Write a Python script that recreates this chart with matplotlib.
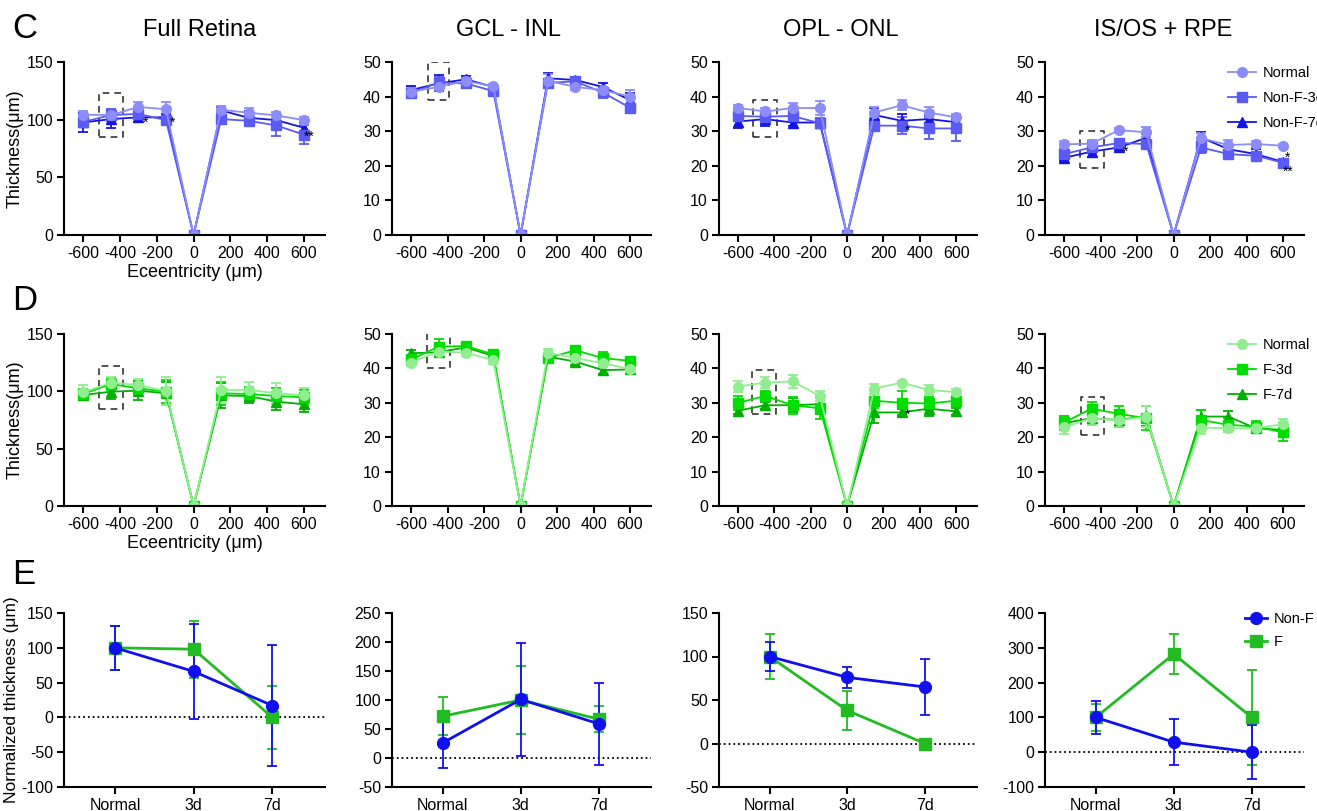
import matplotlib
matplotlib.use('Agg')
import matplotlib.pyplot as plt
import numpy as np

plt.rcParams['font.family'] = ['Liberation Sans', 'DejaVu Sans']
plt.rcParams['axes.unicode_minus'] = False

# eccentricity positions (um)
ecc = [-600, -450, -300, -150, 0, 150, 300, 450, 600]
titles = ['Full Retina', 'GCL - INL', 'OPL - ONL', 'IS/OS + RPE']

# row C : Non-F groups  (Normal, Non-F-3d, Non-F-7d)
c_normal = [[104.3, 104, 111, 109, 0, 108.6, 106, 103.7, 99.6],
            [41.4, 42.8, 44.5, 43, 0, 44.6, 42.8, 41.9, 40],
            [36.7, 35.7, 36.7, 36.7, 0, 35.4, 37.5, 35.4, 34],
            [26.2, 26.4, 30.3, 29.7, 0, 28, 26, 26.3, 25.8]]
c_normal_err = [[3, 3, 4, 6, 0, 3, 4, 3, 3],
                [1, 1, 1, 0.5, 0, 2, 1, 1, 2],
                [1, 1, 1.5, 2, 0, 1.5, 1.5, 1.5, 1],
                [1, 1, 0.5, 1.5, 0, 1.5, 1.5, 1, 0.5]]
c_3d = [[98, 104, 105, 99.6, 0, 100.5, 99, 95, 87],
        [41, 44.1, 43.8, 41.6, 0, 44, 44.4, 41.2, 36.8],
        [34.4, 34.2, 34.4, 32.3, 0, 31.6, 31.6, 30.8, 30.8],
        [23.4, 25.3, 26.6, 26.3, 0, 25.3, 23.4, 22.9, 20.9]]
c_3d_err = [[4, 5, 3, 3, 0, 3, 4, 9, 8],
            [1, 1.5, 1, 0.5, 0, 1, 1, 1.5, 1],
            [1.5, 1.5, 1.5, 1.5, 0, 1, 2.5, 3, 3.5],
            [1.5, 1.5, 1, 1, 0, 1.5, 1, 1, 0.8]]
c_7d = [[97.6, 100.5, 102, 102, 0, 108, 101.6, 99.6, 93],
        [41.9, 43.8, 45, 42.8, 0, 45.3, 44.8, 42.8, 39],
        [32.8, 33.5, 32.5, 32.5, 0, 34.7, 33, 33.5, 32.6],
        [22.3, 24.1, 25.3, 28.1, 0, 28.2, 24.8, 23.4, 21.1]]
c_7d_err = [[8, 8, 4, 3, 0, 3, 6, 4, 4],
            [1.3, 2.3, 1, 0.5, 0, 1.5, 1, 1, 2],
            [2, 2, 1, 1, 0, 2, 2, 1, 1],
            [0.8, 1.5, 0.8, 1, 0, 1.5, 1, 1.5, 0.8]]

# row D : F groups (Normal, F-3d, F-7d)
d_normal = [[99.1, 107.6, 105.5, 100.3, 0, 101.2, 101.2, 98.3, 96.5],
            [41.7, 44.9, 44.6, 42.4, 0, 44.6, 43, 41.5, 39.8],
            [34.7, 35.9, 36.2, 32, 0, 34.1, 35.9, 33.7, 33.1],
            [22.9, 25.5, 24.9, 26, 0, 22.8, 22.6, 22.6, 23.8]]
d_normal_err = [[6, 5, 5, 12, 0, 11, 7, 9, 6],
                [1, 1, 1, 1, 0, 1, 1, 1, 1],
                [1.5, 1.5, 2, 1.5, 0, 1.5, 0.5, 1.5, 1],
                [2, 2, 2, 3, 0, 2, 1, 1.5, 1.5]]
d_3d = [[97.7, 106.4, 102.6, 99.7, 0, 98.3, 97.7, 95.9, 94.8],
        [42.6, 46.3, 46.5, 44.1, 0, 43, 45.3, 43, 42.2],
        [30, 32, 29.3, 28.4, 0, 30.6, 30, 29.8, 30.6],
        [24.3, 28.3, 26.8, 25.5, 0, 25, 23.6, 23.1, 21.4]]
d_3d_err = [[4, 5, 5, 10, 0, 10, 6, 7, 6],
            [1, 2.3, 1, 1.3, 0, 1, 1, 1.7, 1],
            [2, 1.5, 2.5, 3, 0, 2, 3.5, 2, 1.5],
            [2, 2, 2.2, 3.5, 0, 3, 2, 1.5, 2.5]]
d_7d = [[96.8, 99.7, 100.6, 98.3, 0, 96.5, 95.9, 91, 88.7],
        [44.4, 44.7, 46.1, 43.6, 0, 43.4, 42, 39.5, 39.7],
        [27.7, 29.3, 29.3, 29.6, 0, 27.2, 27.2, 28.3, 27.5],
        [24.1, 25.5, 25, 26.2, 0, 26, 26, 22.6, 22.1]]
d_7d_err = [[4, 6, 8, 10, 0, 11, 6, 7, 7],
            [1, 1, 1, 1, 0, 1, 1, 1, 1],
            [1, 1, 2, 3, 0, 3, 1, 2, 1],
            [2, 1.5, 2, 3, 0, 2, 1.5, 1.5, 2]]

# row E : normalized thickness
e_groups = ['Normal', '3d', '7d']
e_nonf = [[100, 66, 17], [26, 101, 59], [100, 76, 65], [100, 29, 0]]
e_nonf_err = [[32, 68, 87], [43, 97, 71], [17, 12, 32], [47, 66, 78]]
e_f = [[100, 98, 0], [72, 100, 67], [100, 38, 0], [100, 282, 100]]
e_f_err = [[32, 41, 45], [33, 58, 23], [26, 22, 0], [39, 57, 137]]
e_ylims = [(-100, 150), (-50, 250), (-50, 150), (-100, 400)]
e_yticks = [50, 50, 50, 100]

W, H = 1317, 811
fig = plt.figure(figsize=(W / 100, H / 100), dpi=100)

def add_ax(x0, x1, ytop, ybot):
    return fig.add_axes([x0 / W, 1 - ybot / H, (x1 - x0) / W, (ybot - ytop) / H])

def style(ax):
    for s in ['top', 'right']:
        ax.spines[s].set_visible(False)
    for s in ['left', 'bottom']:
        ax.spines[s].set_linewidth(1.5)
    ax.tick_params(width=1.5, length=5, labelsize=11.5, pad=3)

cols_x = [(64, 325), (392, 651), (719, 977), (1045, 1304)]
title_x = [200, 509, 841, 1163]

# dashed boxes (x0, x1, y0, y1) around -450
boxes_c = [(-515, -385, 85, 123), (-510, -390, 39, 50), (-519, -388, 28.3, 39), (-514, -384, 19.5, 30.2)]
boxes_d = [(-515, -385, 85, 122), (-515, -389, 40, 52), (-524, -394, 26.7, 39.5), (-510, -380, 20.6, 31.7)]

stars_c = [(0, -262, 97, '*'), (0, -112, 97, '*'), (0, 628, 85, '**'),
           (2, 335, 30, '*'), (3, -262, 24, '*'), (3, 626, 22.4, '*'), (3, 628, 18.2, '**')]
stars_d = [(2, 335, 26.5, '*')]

blue_cols = ['#8c8cfa', '#5a5af5', '#1414e6']
green_cols = ['#90ee90', '#00dd00', '#00b000']

def profile_row(ytop, ybot, normal, nerr, g3, g3err, g7, g7err, cols, labels, boxes, stars):
    for i in range(4):
        ax = add_ax(cols_x[i][0], cols_x[i][1], ytop, ybot)
        style(ax)
        series = [(g7[i], g7err[i], '^', cols[2], labels[2]),
                  (g3[i], g3err[i], 's', cols[1], labels[1]),
                  (normal[i], nerr[i], 'o', cols[0], labels[0])]
        handles = {}
        for y, e, m, c, lab in series:
            h = ax.errorbar(ecc, y, yerr=e, marker=m, color=c, ms=7, lw=1.3,
                            elinewidth=1.3, capsize=3.5, capthick=1.3, label=lab)
            handles[lab] = h[0]
        x0, x1, y0, y1 = boxes[i]
        ax.plot([x0, x1, x1, x0, x0], [y0, y0, y1, y1, y0], ls=(0, (4, 3)), color='#333333', lw=1.2)
        ax.set_xlim(-705, 715)
        ax.set_xticks([-600, -400, -200, 0, 200, 400, 600])
        if i == 0:
            ax.set_ylim(0, 150)
            ax.set_yticks([0, 50, 100, 150])
            ax.set_ylabel('Thickness(μm)', fontsize=13, labelpad=2)
            ax.set_xlabel('Eceentricity (μm)', fontsize=13, labelpad=2)
        else:
            ax.set_ylim(0, 50)
            ax.set_yticks([0, 10, 20, 30, 40, 50])
        if i == 3:
            ax.axhline(0, color='black', ls=':', lw=1.2, zorder=0)
            ax.legend([handles[l] for l in labels], labels, loc='upper left',
                      bbox_to_anchor=(1228 / W, 1 - (ytop + 4) / H),
                      bbox_transform=fig.transFigure, frameon=False, fontsize=10.5,
                      handlelength=1.9, handletextpad=0.45, labelspacing=0.75,
                      borderaxespad=0, borderpad=0)
        for k, sx, sy, s in stars:
            if k == i:
                ax.text(sx, sy, s, fontsize=10, ha='center', va='center')

profile_row(62, 235, c_normal, c_normal_err, c_3d, c_3d_err, c_7d, c_7d_err,
            blue_cols, ['Normal', 'Non-F-3d', 'Non-F-7d'], boxes_c, stars_c)
profile_row(334, 506, d_normal, d_normal_err, d_3d, d_3d_err, d_7d, d_7d_err,
            green_cols, ['Normal', 'F-3d', 'F-7d'], boxes_d, stars_d)

# row E
xe = np.arange(3)
for i in range(4):
    ax = add_ax(cols_x[i][0], cols_x[i][1], 613, 787)
    style(ax)
    ax.axhline(0, color='black', ls=':', lw=1.3, zorder=0)
    hf = ax.errorbar(xe, e_f[i], yerr=e_f_err[i], marker='s', color='#22bb22', ms=8, lw=2,
                     elinewidth=1.3, capsize=3.5, capthick=1.3)
    hn = ax.errorbar(xe, e_nonf[i], yerr=e_nonf_err[i], marker='o', color='#1010ee', ms=8.5, lw=2,
                     elinewidth=1.3, capsize=3.5, capthick=1.3)
    ax.set_xlim(-0.65, 2.67)
    ax.set_xticks(xe)
    ax.set_xticklabels(e_groups)
    ax.set_ylim(*e_ylims[i])
    ax.set_yticks(np.arange(e_ylims[i][0], e_ylims[i][1] + 1, e_yticks[i]))
    if i == 0:
        ax.set_ylabel('Normalized thickness (μm)', fontsize=12.5, labelpad=1)
    if i == 3:
        ax.legend([hn[0], hf[0]], ['Non-F', 'F'], loc='upper left',
                  bbox_to_anchor=(1245 / W, 1 - 612 / H), bbox_transform=fig.transFigure,
                  frameon=False, fontsize=10.5, handlelength=1.5, handletextpad=0.5,
                  labelspacing=0.65, borderaxespad=0, borderpad=0)

# column titles and panel letters
for t, tx in zip(titles, title_x):
    fig.text(tx / W, 1 - 30 / H, t, fontsize=17, ha='center', va='center')
for lab, yy in [('C', 28), ('D', 300), ('E', 575)]:
    fig.text(12 / W, 1 - yy / H, lab, fontsize=25, ha='left', va='center')

fig.savefig('out.png', dpi=100)
